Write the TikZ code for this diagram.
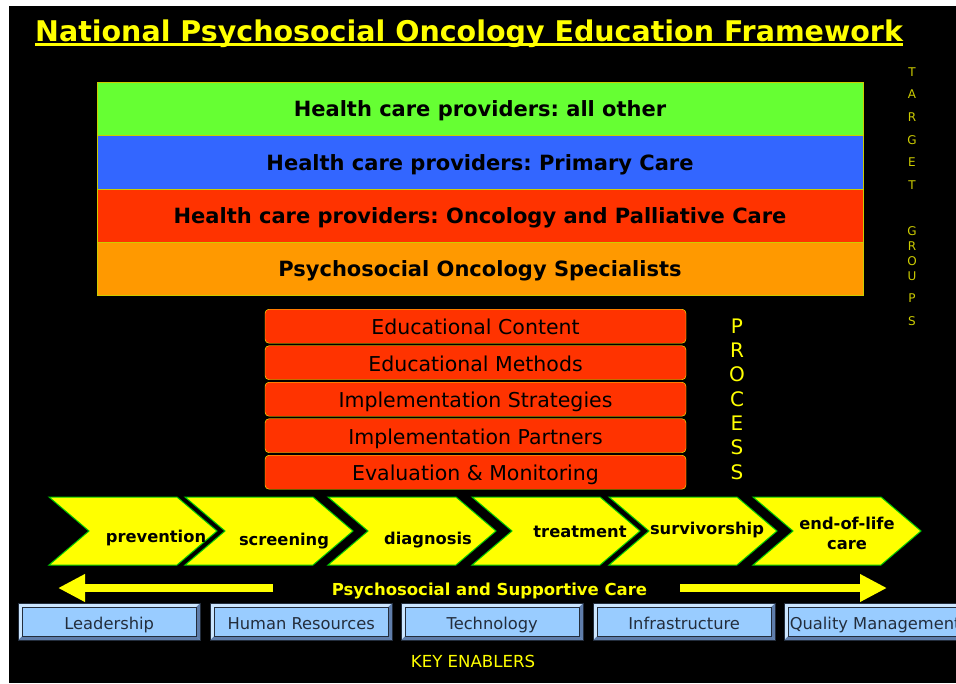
\documentclass[tikz,border=0pt]{standalone}
\usepackage{fontspec}
\setmainfont{DejaVu Sans}
\frenchspacing
\usetikzlibrary{arrows.meta}
\definecolor{vt}{RGB}{102, 255, 51}
\definecolor{bl}{RGB}{51, 102, 255}
\definecolor{rg}{RGB}{255, 51, 0}
\definecolor{or}{RGB}{255, 153, 0}
\definecolor{jn}{RGB}{255, 255, 0}
\definecolor{ol}{RGB}{204, 204, 0}
\definecolor{ve}{RGB}{0, 200, 0}
\definecolor{ciel}{RGB}{153, 204, 255}
\definecolor{clair}{RGB}{204, 230, 255}
\definecolor{fonce}{RGB}{95, 125, 170}
\definecolor{gris}{RGB}{35, 45, 60}

\begin{document}
\begin{tikzpicture}[x=1pt,y=-1pt,
	groupe/.style={draw=ol, line width=0.8, minimum width=766, minimum height=53.25, inner sep=0, text height=15.5, text depth=0, font=\fontsize{21}{24}\selectfont\bfseries},
	etape/.style={draw=jn, fill=rg, rounded corners=4, minimum width=421, minimum height=34, inner sep=0, text height=17, text depth=0, font=\fontsize{20.5}{24}\selectfont},
	cle/.style={draw=gris, fill=ciel, minimum width=182, minimum height=37, inner sep=0, text height=15, text depth=0, text=gris, font=\fontsize{16.3}{20}\selectfont}]
	\useasboundingbox (0,0) rectangle (956,683);
	\clip (0,0) rectangle (956,683);
	\fill[white] (0,0) rectangle (956,683);
	\fill[black] (9,6) rectangle (956,683); % le fond
	% titre souligne
	\node[anchor=base, inner sep=0, text=jn, font=\fontsize{28.5}{30}\selectfont\bfseries] (titre) at (469,41) {National Psychosocial Oncology Education Framework};
	\draw[jn, line width=3] ([yshift=-3.5pt]titre.base west) -- ([yshift=-3.5pt]titre.base east);
	% groupes cibles
	\foreach \Col/\Texte [count=\i] in {vt/{Health care providers: all other}, bl/{Health care providers: Primary Care}, rg/{Health care providers: Oncology and Palliative Care}, or/{Psychosocial Oncology Specialists}}{
		\node[groupe, fill=\Col, anchor=north] (groupe\i) at (480, 82+53.25*\i-53.25) {\Texte};}
	\foreach \L/\y [count=\i] in {T/72, A/94, R/117, G/140, E/162, T/185, G/231, R/246, O/261, U/276, P/298, S/321}{
		\node[text=ol, inner sep=0, font=\fontsize{12}{12}\selectfont] (cible\i) at (912,\y) {\L};}
	% processus
	\foreach \Texte [count=\i] in {Educational Content, Educational Methods, Implementation Strategies, Implementation Partners, Evaluation \& Monitoring}{
		\node[etape, anchor=north] (etape\i) at (475.5, 309+36.5*\i-36.5) {\Texte};}
	\foreach \L [count=\i] in {P,R,O,C,E,S,S}{
		\node[text=jn, inner sep=0, font=\fontsize{20}{20}\selectfont] (proc\i) at (737, 326+24.3*\i-24.3) {\L};}
	% les phases (chevrons)
	\foreach \x/\lx/\ly/\Texte [count=\i] in {49/156/542/prevention, 185/284/545/screening, 328/428/544/diagnosis, 472/580/537/treatment, 609/707/534/survivorship, 753/847/549/{end-of-life\\care}}{
		\draw[fill=jn, draw=ve, line width=1] (\x,497) -- (\x+128,497) -- (\x+168,531) -- (\x+128,565) -- (\x,565) -- (\x+40,531) -- cycle;
		\node[anchor=base, align=center, inner sep=0, font=\fontsize{16.3}{20}\selectfont\bfseries] (phase\i) at (\lx,\ly) {\Texte};}
	% fleches
	\node[anchor=base, inner sep=0, text=jn, font=\fontsize{16.5}{18}\selectfont\bfseries] (soins) at (489.5,595) {Psychosocial and Supportive Care};
	\coordinate (g1) at (273,588); \coordinate (g2) at (58,588);
	\coordinate (d1) at (680,588); \coordinate (d2) at (887,588);
	\draw[jn, line width=8, -{Triangle[length=27pt,width=26pt]}] (g1) -- (g2);
	\draw[jn, line width=8, -{Triangle[length=27pt,width=26pt]}] (d1) -- (d2);
	% boutons
	\foreach \x/\Texte [count=\i] in {18/Leadership, 210/Human Resources, 401/Technology, 593/Infrastructure, 784/Quality Management}{
		\node[cle, anchor=north west] (cle\i) at (\x,603) {\Texte};
		\fill[clair] (cle\i.north west) -- (cle\i.north east) -- ([shift={(-4,4)}]cle\i.north east) -- ([shift={(4,4)}]cle\i.north west) -- cycle;
		\fill[clair] (cle\i.north west) -- ([shift={(4,4)}]cle\i.north west) -- ([shift={(4,-4)}]cle\i.south west) -- (cle\i.south west) -- cycle;
		\fill[fonce] (cle\i.north east) -- (cle\i.south east) -- ([shift={(-4,-4)}]cle\i.south east) -- ([shift={(-4,4)}]cle\i.north east) -- cycle;
		\fill[fonce] (cle\i.south west) -- (cle\i.south east) -- ([shift={(-4,-4)}]cle\i.south east) -- ([shift={(4,-4)}]cle\i.south west) -- cycle;
		\draw[gris, line width=0.8] (cle\i.north west) rectangle (cle\i.south east);
		\draw[gris, line width=0.5] ([shift={(4,4)}]cle\i.north west) rectangle ([shift={(-4,-4)}]cle\i.south east);}
	\node[anchor=base, inner sep=0, text=jn, font=\fontsize{16.6}{18}\selectfont] (cles) at (473,667) {KEY ENABLERS};
\end{tikzpicture}
\end{document}
